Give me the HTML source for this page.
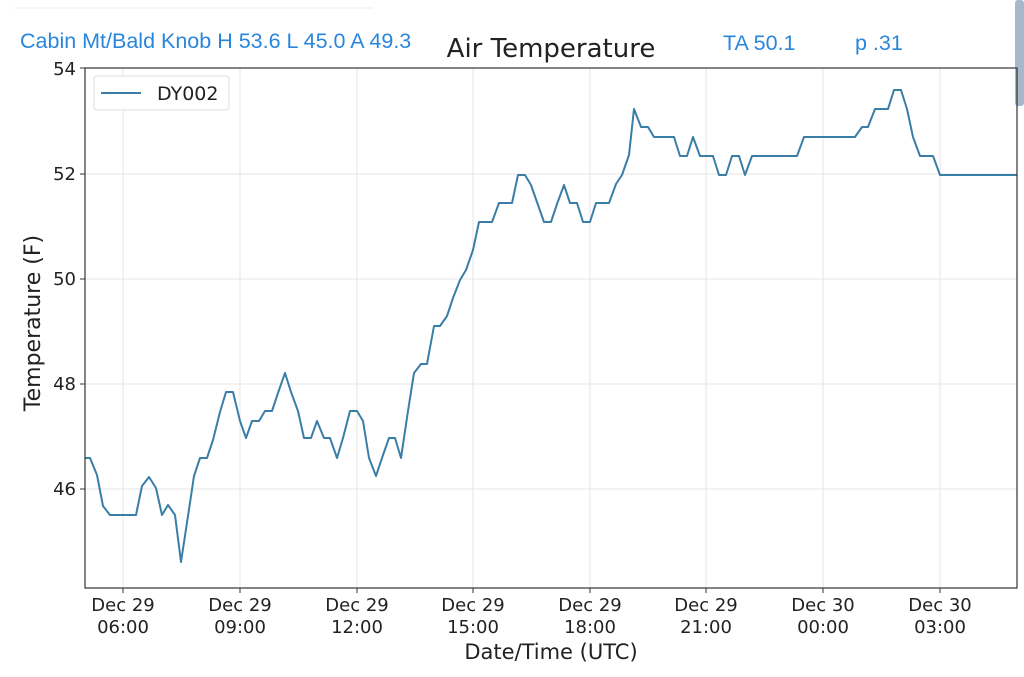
<!DOCTYPE html><html><head><style>body{margin:0;background:#fff}svg{display:block}</style></head><body>
<svg width="1024" height="677" xmlns="http://www.w3.org/2000/svg" font-family="'DejaVu Sans','Liberation Sans',sans-serif">
<rect width="1024" height="677" fill="#fff"/>
<line x1="14" y1="8" x2="373" y2="8" stroke="#eee" stroke-width="1"/>
<rect x="1015" y="0" width="9" height="106" rx="3" fill="#a7b8cc"/>
<g stroke="#e6e6e6" stroke-width="1">
<line x1="123" y1="68" x2="123" y2="588"/><line x1="240" y1="68" x2="240" y2="588"/><line x1="357" y1="68" x2="357" y2="588"/><line x1="473" y1="68" x2="473" y2="588"/><line x1="590" y1="68" x2="590" y2="588"/><line x1="706" y1="68" x2="706" y2="588"/><line x1="823" y1="68" x2="823" y2="588"/><line x1="940" y1="68" x2="940" y2="588"/>
<line x1="85" y1="174" x2="1017" y2="174"/><line x1="85" y1="279" x2="1017" y2="279"/><line x1="85" y1="384" x2="1017" y2="384"/><line x1="85" y1="489" x2="1017" y2="489"/>
</g>
<polyline fill="none" stroke="#3a7ea8" stroke-width="2" stroke-linejoin="round" points="85,458 90,458 97,475 103,506 110,515 136,515 142,486 149,477 156,488 162,515 168,505 175,515 181,562 188,516 194,476 200,458 207,458 213,440 220,412 226,392 233,392 240,421 246,438 252,421 259,421 265,411 272,411 278,393 285,373 291,392 298,411 304,438 311,438 317,421 324,438 330,438 337,458 343,438 350,411 357,411 363,421 369,458 376,476 382,458 389,438 395,438 401,458 408,411 414,373 421,364 427,364 434,326 440,326 447,316 453,298 460,280 466,270 473,250 479,222 486,222 492,222 499,203 505,203 512,203 518,175 525,175 531,185 538,205 544,222 551,222 557,204 564,185 570,203 577,203 583,222 590,222 596,203 603,203 609,203 616,184 622,175 629,155 634,109 641,127 648,127 654,137 674,137 680,156 687,156 693,137 700,156 713,156 719,175 726,175 732,156 739,156 745,175 752,156 797,156 804,137 855,137 862,127 868,127 875,109 888,109 894,90 901,90 907,109 913,137 920,156 933,156 940,175 1017,175"/>
<rect x="85" y="68" width="932" height="520" fill="none" stroke="#333" stroke-width="1.2"/>
<g stroke="#333" stroke-width="1">
<line x1="80" y1="68" x2="85" y2="68"/><line x1="80" y1="174" x2="85" y2="174"/><line x1="80" y1="279" x2="85" y2="279"/><line x1="80" y1="384" x2="85" y2="384"/><line x1="80" y1="489" x2="85" y2="489"/>
<line x1="123" y1="588" x2="123" y2="593"/><line x1="240" y1="588" x2="240" y2="593"/><line x1="357" y1="588" x2="357" y2="593"/><line x1="473" y1="588" x2="473" y2="593"/><line x1="590" y1="588" x2="590" y2="593"/><line x1="706" y1="588" x2="706" y2="593"/><line x1="823" y1="588" x2="823" y2="593"/><line x1="940" y1="588" x2="940" y2="593"/>
</g>
<g font-size="18" fill="#222" text-anchor="end">
<text x="76" y="75">54</text><text x="76" y="180">52</text><text x="76" y="285">50</text><text x="76" y="390">48</text><text x="76" y="495">46</text>
</g>
<g font-size="18" fill="#222" text-anchor="middle">
<text x="123" y="611">Dec 29</text><text x="123" y="633">06:00</text>
<text x="240" y="611">Dec 29</text><text x="240" y="633">09:00</text>
<text x="357" y="611">Dec 29</text><text x="357" y="633">12:00</text>
<text x="473" y="611">Dec 29</text><text x="473" y="633">15:00</text>
<text x="590" y="611">Dec 29</text><text x="590" y="633">18:00</text>
<text x="706" y="611">Dec 29</text><text x="706" y="633">21:00</text>
<text x="823" y="611">Dec 30</text><text x="823" y="633">00:00</text>
<text x="940" y="611">Dec 30</text><text x="940" y="633">03:00</text>
<text x="551" y="659" font-size="21">Date/Time (UTC)</text>
<text x="551" y="57" font-size="26">Air Temperature</text>
</g>
<text transform="translate(40,323) rotate(-90)" font-size="22" fill="#222" text-anchor="middle">Temperature (F)</text>
<rect x="94" y="76" width="135" height="34" rx="3" fill="#fff" stroke="#ddd"/>
<line x1="101" y1="93" x2="141" y2="93" stroke="#3a7ea8" stroke-width="2"/>
<text x="157" y="100" font-size="19" fill="#222">DY002</text>
<g font-family="'Liberation Sans',sans-serif" font-size="21.5" fill="#2a86dc">
<text x="20" y="48">Cabin Mt/Bald Knob H 53.6 L 45.0 A 49.3</text>
<text x="723" y="50">TA 50.1</text>
<text x="855" y="50">p .31</text>
</g>
</svg></body></html>
